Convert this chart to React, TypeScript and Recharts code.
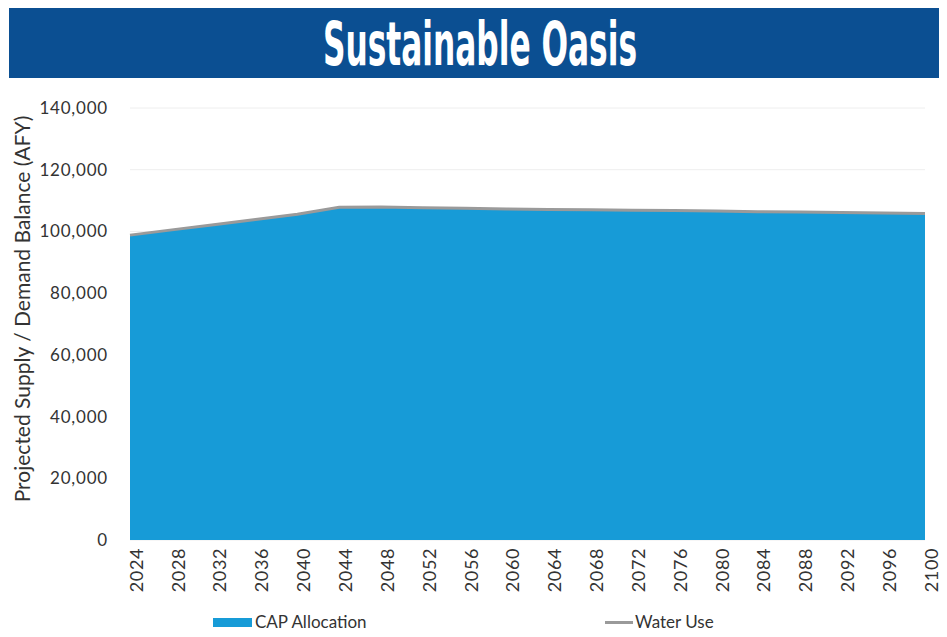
import React from 'react';
import { ComposedChart, Area, Line, XAxis, YAxis, CartesianGrid, Legend } from 'recharts';

// Projection years, one point per tick
const years = [
  2024, 2028, 2032, 2036, 2040, 2044, 2048, 2052, 2056, 2060,
  2064, 2068, 2072, 2076, 2080, 2084, 2088, 2092, 2096, 2100,
];

// CAP allocation (AFY)
const capAllocation = [
  98800, 100500, 102200, 103900, 105600, 107800, 107900, 107700, 107500, 107300,
  107100, 107000, 106900, 106800, 106600, 106400, 106300, 106100, 106000, 105800,
];

// Water use (AFY)
const waterUse = [
  98800, 100500, 102200, 103900, 105600, 107800, 107900, 107700, 107500, 107300,
  107100, 107000, 106900, 106800, 106600, 106400, 106300, 106100, 106000, 105800,
];

const yTicks = [0, 20000, 40000, 60000, 80000, 100000, 120000, 140000];

const data = years.map((year, i) => ({
  year,
  cap: capAllocation[i],
  water: waterUse[i],
}));

const BLUE = '#179bd7';
const GRAY = '#9a9a9a';
const TEXT = '#333333';
const FONT = 'Lato, "Open Sans", sans-serif';

const fmt = (v: number) => v.toLocaleString('en-US');

const LegendBox = () => (
  <div style={{ position: 'relative', height: 14, fontFamily: FONT, fontSize: 17, lineHeight: '20px', color: TEXT }}>
    <div style={{ position: 'absolute', left: 204, top: -1, display: 'flex', alignItems: 'center' }}>
      <span style={{ display: 'inline-block', width: 39, height: 9, background: BLUE, marginRight: 3 }} />
      <span>CAP Allocation</span>
    </div>
    <div style={{ position: 'absolute', left: 596, top: -1, display: 'flex', alignItems: 'center' }}>
      <span style={{ display: 'inline-block', width: 28, height: 3, background: GRAY, marginRight: 2 }} />
      <span>Water Use</span>
    </div>
  </div>
);

export default function App() {
  return (
    <div style={{ width: 938, marginLeft: 1, background: '#fff' }}>
      <style>{'html, body { overflow: hidden; }'}</style>
      <svg width={938} height={70} style={{ display: 'block' }}>
        <rect x={0} y={0} width={938} height={70} fill="#0b4f92" />
        <text
          x={471}
          y={57}
          textAnchor="middle"
          fill="#ffffff"
          fontFamily='"Liberation Sans Narrow", "DejaVu Sans Condensed", sans-serif'
          fontWeight="bold"
          fontSize={60}
          textLength={314}
          lengthAdjust="spacingAndGlyphs"
        >
          Sustainable Oasis
        </text>
      </svg>
      <ComposedChart width={938} height={551} data={data} margin={{ top: 30, right: 22, bottom: 29, left: 0 }}>
        <CartesianGrid vertical={false} stroke="#eeeeee" />
        <XAxis
          dataKey="year"
          interval={0}
          axisLine={false}
          tickLine={false}
          height={60}
          tick={{ angle: -90, textAnchor: 'end', fontSize: 18, fill: TEXT, fontFamily: FONT, letterSpacing: 0.6 }}
        />
        <YAxis
          width={121}
          domain={[0, 140000]}
          ticks={yTicks}
          interval={0}
          axisLine={false}
          tickLine={false}
          tickMargin={16}
          tickFormatter={fmt}
          tick={{ fontSize: 17, fill: TEXT, fontFamily: FONT, letterSpacing: 0.8 }}
          label={{
            content: () => (
              <text
                transform="translate(12,231) rotate(-90)"
                textAnchor="middle"
                dominantBaseline="central"
                fontSize={21}
                fill={TEXT}
                fontFamily={FONT}
              >
                Projected Supply / Demand Balance (AFY)
              </text>
            ),
          }}
        />
        <Area
          type="linear"
          dataKey="cap"
          name="CAP Allocation"
          fill={BLUE}
          fillOpacity={1}
          stroke="none"
          isAnimationActive={false}
        />
        <Line
          type="linear"
          dataKey="water"
          name="Water Use"
          stroke={GRAY}
          strokeWidth={3}
          dot={false}
          isAnimationActive={false}
        />
        <Legend
          verticalAlign="middle"
          align="center"
          wrapperStyle={{ top: 535, left: 0, width: 938 }}
          content={() => <LegendBox />}
        />
      </ComposedChart>
    </div>
  );
}
